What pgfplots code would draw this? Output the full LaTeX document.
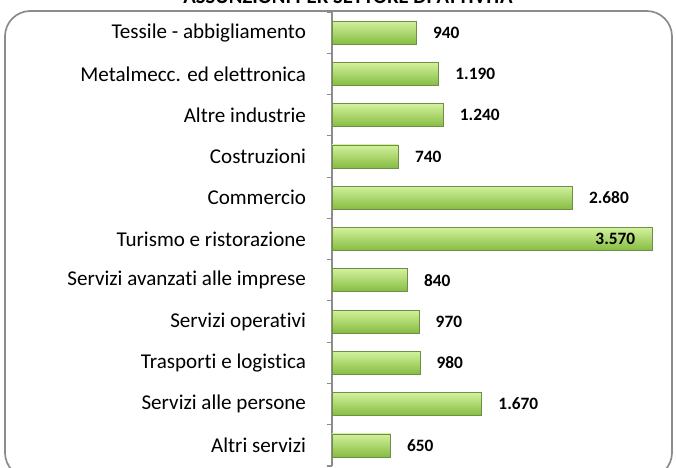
\documentclass[border=0pt]{standalone}
\usepackage{pgfplots}
\pgfplotsset{compat=1.18}
\usepackage{fontspec}
\setmainfont[Ligatures={NoCommon}]{Carlito}
\definecolor{gtop}{HTML}{D2F19C}
\definecolor{gmid}{HTML}{A2DA5C}
\definecolor{gbot}{HTML}{86BC42}
\definecolor{gedge}{HTML}{6E8F45}
\definecolor{frame}{HTML}{8C8C8C}
\begin{document}
\begin{tikzpicture}[x=0.75pt,y=0.75pt]
\useasboundingbox (-332,-2) rectangle (344,466);
\begin{scope}
\clip (-332,-2) rectangle (344,466);
\draw[frame, line width=1.3pt, rounded corners=19pt] (-327,-12) rectangle (340,455);
\node[font=\bfseries\fontsize{15.5}{18}\selectfont, anchor=base, inner sep=0pt] at (16,462) {ASSUNZIONI PER SETTORE DI ATTIVITÀ};
\end{scope}
\begin{axis}[
  at={(0,0)}, anchor=south west,
  scale only axis, width=246pt, height=340.5pt,
  xbar, bar width=17.25pt,
  xmin=0, xmax=3659,
  ymin=-0.5, ymax=10.5, y dir=reverse,
  axis x line=none, axis y line=left,
  y axis line style={-, draw=frame, line width=0.8pt},
  ytick={-0.5,0.5,...,10.5},
  y tick label as interval,
  yticklabels={Tessile - abbigliamento, Metalmecc. ed elettronica, Altre industrie, Costruzioni, Commercio, Turismo e ristorazione, Servizi avanzati alle imprese, Servizi operativi, Trasporti e logistica, Servizi alle persone, Altri servizi},
  yticklabel style={font=\fontsize{15.8}{18}\selectfont, xshift=-12pt},
  tick align=outside, major tick length=4pt,
  ytick style={draw=frame, line width=0.8pt},
  mybar/.style={draw=gedge, line width=0.5pt, shading=axis, top color=gtop, middle color=gmid, bottom color=gbot, bar shift=0pt},
  /pgf/number format/assume math mode=true,
  nodes near coords={\pgfmathprintnumber[fixed, precision=0, 1000 sep={.}]{\pgfplotspointmeta}},
  nodes near coords style={font=\bfseries\fontsize{13}{15}\selectfont, text=black, anchor=west, xshift=9pt},
  point meta=x,
  clip=false,
]
\addplot[mybar] coordinates {(940,0)};
\addplot[mybar] coordinates {(1190,1)};
\addplot[mybar] coordinates {(1240,2)};
\addplot[mybar] coordinates {(740,3)};
\addplot[mybar] coordinates {(2680,4)};
\addplot[mybar, nodes near coords style={anchor=east, xshift=-18pt}] coordinates {(3570,5)};
\addplot[mybar] coordinates {(840,6)};
\addplot[mybar] coordinates {(970,7)};
\addplot[mybar] coordinates {(980,8)};
\addplot[mybar] coordinates {(1670,9)};
\addplot[mybar] coordinates {(650,10)};
\end{axis}
\end{tikzpicture}
\end{document}
